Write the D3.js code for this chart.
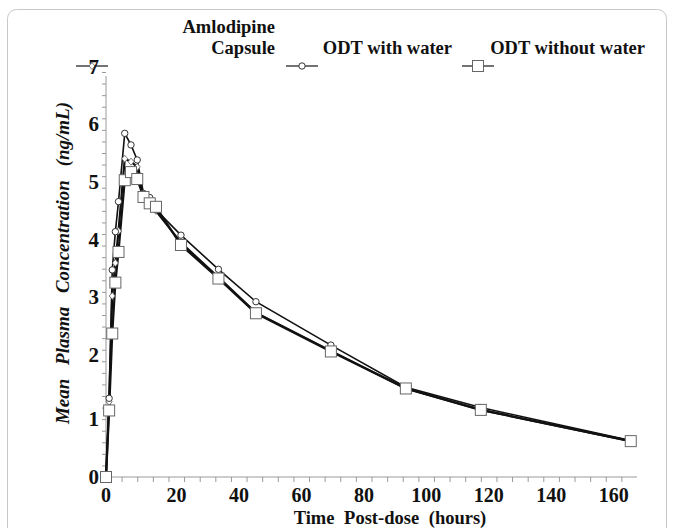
<!DOCTYPE html>
<html>
<head>
<meta charset="utf-8">
<script src="https://cdn.jsdelivr.net/npm/d3@7/dist/d3.min.js"></script>
<style>
  body { margin: 0; background: #fff; }
  text { font-family: "Liberation Serif", "DejaVu Serif", serif; font-weight: bold; fill: #111; }
</style>
</head>
<body>
<div id="chart"></div>
<script>
// sampling times (hours)
var hours = [0, 1, 2, 3, 4, 6, 8, 10, 12, 14, 16, 24, 36, 48, 72, 96, 120, 168];
// mean plasma concentration (ng/mL)
var capsule = [0, 1.3, 3.13, 3.7, 4.25, 5.5, 5.45, 5.36, 4.85, 4.75, 4.6, 4.05, 3.45, 2.84, 2.18, 1.53, 1.16, 0.62];
var odtWater = [0, 1.36, 3.58, 4.24, 4.76, 5.94, 5.74, 5.48, 4.9, 4.83, 4.62, 4.18, 3.59, 3.03, 2.28, 1.55, 1.2, 0.63];
var odtNoWater = [0, 1.15, 2.48, 3.36, 3.89, 5.13, 5.27, 5.15, 4.84, 4.73, 4.67, 4.01, 3.43, 2.83, 2.17, 1.53, 1.16, 0.62];
var seriesNames = ["Amlodipine Capsule", "ODT with water", "ODT without water"];
var xLabelTicks = [0, 20, 40, 60, 80, 100, 120, 140, 160];
var yLabelTicks = [0, 1, 2, 3, 4, 5, 6];

var svgWidth = 674, svgHeight = 528;
var svg = d3.select("#chart").append("svg")
    .attr("width", svgWidth)
    .attr("height", svgHeight);

// outer frame
svg.append("rect")
    .attr("x", 7.5).attr("y", 9.5)
    .attr("width", 659).attr("height", 540)
    .attr("rx", 9)
    .attr("fill", "none")
    .attr("stroke", "#c8c8c8");

var x = d3.scaleLinear().domain([0, 170]).range([106, 637]);
var y = d3.scaleLinear().domain([0, 7]).range([477, 72]);

// ** axes **
var axisColor = "#9a9a9a";
var xMinor = svg.append("g")
    .attr("transform", "translate(0,477)")
    .call(d3.axisBottom(x).tickValues(d3.range(5, 170, 5)).tickSize(5).tickFormat(""));
var yMinor = svg.append("g")
    .attr("transform", "translate(106,0)")
    .call(d3.axisLeft(y).tickValues(d3.range(0.2, 7.01, 0.2)).tickSize(4).tickFormat(""));
svg.selectAll(".domain, .tick line").attr("stroke", axisColor);
xMinor.select(".domain").attr("d", "M106,0H637");
yMinor.select(".domain").attr("d", "M0,477V76");

// tick labels
svg.append("g").selectAll("text")
    .data(xLabelTicks).enter().append("text")
    .attr("x", d => x(d) + (d ? 8 : 0))
    .attr("y", 502)
    .attr("text-anchor", "middle")
    .attr("font-size", "20px")
    .text(d => d);
svg.append("g").selectAll("text")
    .data(yLabelTicks).enter().append("text")
    .attr("x", 99)
    .attr("y", d => y(d) - (d > 1 ? 6 : 0) + 7)
    .attr("text-anchor", "end")
    .attr("font-size", "21px")
    .text(d => d);

// axis titles
svg.append("text")
    .attr("transform", "translate(69,263) rotate(-90)")
    .attr("text-anchor", "middle")
    .attr("font-size", "19px")
    .attr("font-style", "italic")
    .attr("word-spacing", "9px")
    .text("Mean Plasma Concentration (ng/mL)");
svg.append("text")
    .attr("x", 390).attr("y", 524)
    .attr("text-anchor", "middle")
    .attr("font-size", "18.5px")
    .attr("word-spacing", "5px")
    .text("Time Post-dose (hours)");

// ** lines **
var line = d3.line().x(d => x(d[0])).y(d => y(d[1]));
var series = [capsule, odtWater, odtNoWater].map(vals => hours.map((h, i) => [h, vals[i]]));
var lineWidths = [2.2, 1.6, 2.2];
series.forEach(function(pts, i) {
  svg.append("path")
      .datum(pts)
      .attr("fill", "none")
      .attr("stroke", "#111")
      .attr("stroke-width", lineWidths[i])
      .attr("d", line);
});

// markers
function drawMarker(g, kind, cx, cy) {
  if (kind === 0) {
    g.append("path")
        .attr("d", `M${cx},${cy - 3.5}L${cx + 3},${cy}L${cx},${cy + 3.5}L${cx - 3},${cy}Z`)
        .attr("fill", "#fff").attr("stroke", "#555").attr("stroke-width", 0.8);
  } else if (kind === 1) {
    g.append("circle").attr("cx", cx).attr("cy", cy).attr("r", 3.2)
        .attr("fill", "#fff").attr("stroke", "#333").attr("stroke-width", 1);
  } else {
    g.append("rect").attr("x", cx - 5.5).attr("y", cy - 5.5).attr("width", 11).attr("height", 11)
        .attr("fill", "#fff").attr("stroke", "#666").attr("stroke-width", 1);
  }
}
var markerGroup = svg.append("g");
series.forEach(function(pts, i) {
  pts.forEach(p => drawMarker(markerGroup, i, x(p[0]), y(p[1])));
});

// ** legend **
var legendX = [92, 302, 478];
var legendLabelEnd = [275, 452, 645];
legendX.forEach(function(lx, i) {
  svg.append("line")
      .attr("x1", lx - 16).attr("x2", lx + 16)
      .attr("y1", 66).attr("y2", 66)
      .attr("stroke", "#444").attr("stroke-width", 1.5);
  drawMarker(svg, i, lx, 66);
});
// the "7" tick label sits on top of the capsule legend key
svg.append("text").attr("x", 99).attr("y", 74).attr("text-anchor", "end")
    .attr("font-size", "21px").text("7");
svg.append("text").attr("x", legendLabelEnd[0]).attr("y", 33)
    .attr("text-anchor", "end").attr("font-size", "18.5px").text("Amlodipine");
svg.append("text").attr("x", legendLabelEnd[0]).attr("y", 54)
    .attr("text-anchor", "end").attr("font-size", "18.5px").text("Capsule");
svg.append("text").attr("x", legendLabelEnd[1]).attr("y", 54)
    .attr("text-anchor", "end").attr("font-size", "18.5px").text(seriesNames[1]);
svg.append("text").attr("x", legendLabelEnd[2]).attr("y", 54)
    .attr("text-anchor", "end").attr("font-size", "18.5px").text(seriesNames[2]);
</script>
</body>
</html>
